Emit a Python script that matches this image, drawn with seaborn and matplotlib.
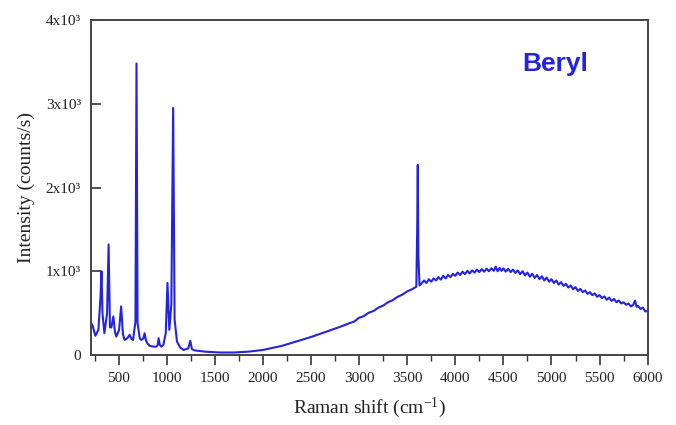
import matplotlib
matplotlib.use("Agg")
import matplotlib.pyplot as plt
import seaborn as sns
import pandas as pd
from matplotlib.ticker import MultipleLocator, FixedLocator, FixedFormatter

# Raman spectrum of beryl: shift (cm^-1) and intensity (counts/s)
shift_low = [210, 230, 258, 290, 312, 322, 332, 352, 380, 396, 410, 425, 445, 462,
             476, 505, 526, 545, 562, 590, 614, 635, 650, 675, 686, 697, 720, 736,
             758, 770, 785, 805, 822, 860, 892, 906, 916, 928, 945, 965, 990, 1008,
             1027, 1048, 1067, 1082, 1107, 1140, 1175, 1225, 1245, 1262, 1290]
counts_low = [390, 350, 230, 300, 700, 1000, 500, 260, 500, 1320, 330, 330, 460, 280,
              220, 300, 580, 250, 180, 200, 240, 190, 180, 400, 3480, 380, 200, 180,
              200, 260, 170, 130, 110, 100, 100, 120, 200, 120, 100, 120, 260, 860,
              300, 600, 2950, 420, 160, 90, 60, 80, 170, 70, 55]

shift_mid = [1400, 1550, 1700, 1850, 2000, 2100, 2200, 2300, 2400, 2500, 2600, 2700,
             2800, 2900, 2950, 3000, 3050, 3100, 3150, 3200, 3250, 3300, 3350, 3400,
             3450, 3500, 3550, 3595, 3604, 3610, 3616, 3628]
counts_mid = [40, 30, 30, 40, 60, 85, 110, 145, 180, 215, 255, 295, 335, 380, 400,
              445, 465, 505, 525, 565, 590, 630, 655, 695, 720, 760, 785, 816, 1500,
              2270, 1200, 830]

shift_high = [3650, 3675, 3700, 3725, 3750, 3775, 3800, 3825, 3850, 3875, 3900, 3925,
              3950, 3975, 4000, 4025, 4050, 4075, 4100, 4125, 4150, 4175, 4200, 4225,
              4250, 4275, 4300, 4325, 4350, 4375, 4400, 4420, 4440, 4460, 4480, 4500,
              4525, 4550, 4575, 4600, 4625, 4650, 4675, 4700, 4725, 4750, 4775, 4800,
              4825, 4850, 4875, 4900, 4925, 4950, 4975, 5000, 5025, 5050, 5075, 5100,
              5125, 5150, 5175, 5200, 5225, 5250, 5275, 5300, 5325, 5350, 5375, 5400,
              5425, 5450, 5475, 5500, 5525, 5550, 5575, 5600, 5625, 5650, 5675, 5700,
              5725, 5750, 5775, 5800, 5825, 5850, 5868, 5885, 5900, 5925, 5950, 5975,
              6000]
counts_high = [855, 890, 860, 905, 875, 915, 890, 930, 900, 945, 915, 955, 930, 970,
               945, 985, 955, 995, 965, 1005, 975, 1010, 985, 1020, 990, 1025, 995,
               1030, 1000, 1035, 1005, 1055, 1000, 1040, 1005, 1035, 995, 1030, 990,
               1020, 980, 1010, 965, 1000, 950, 985, 935, 970, 920, 955, 905, 940, 890,
               925, 875, 905, 860, 890, 840, 870, 825, 850, 805, 830, 785, 810, 765,
               790, 750, 770, 730, 750, 715, 735, 695, 715, 680, 700, 660, 685, 645,
               670, 630, 650, 615, 630, 600, 615, 580, 600, 650, 575, 585, 550, 565,
               520, 525]

x_ticks = [500, 1000, 1500, 2000, 2500, 3000, 3500, 4000, 4500, 5000, 5500, 6000]
y_ticks = [0, 1000, 2000, 3000, 4000]
y_tick_labels = ["0", "1x10³", "2x10³", "3x10³", "4x10³"]

spectrum = pd.DataFrame({
    "shift": shift_low + shift_mid + shift_high,
    "counts": counts_low + counts_mid + counts_high,
})

sns.set_style("ticks")
plt.rcParams["font.family"] = ["Liberation Serif", "DejaVu Serif"]
plt.rcParams["mathtext.fontset"] = "custom"
plt.rcParams["mathtext.rm"] = "Liberation Serif"
plt.rcParams["mathtext.it"] = "Liberation Serif:italic"

fig = plt.figure(figsize=(6.76, 4.25), dpi=100)
ax = fig.add_axes([0.1342, 0.1647, 0.8239, 0.7882])

line_color = "#2424dc"
sns.lineplot(data=spectrum, x="shift", y="counts", ax=ax, color=line_color,
             linewidth=1.5, estimator=None, sort=False)

ax.set_xlim(210, 6000)
ax.set_ylim(0, 4000)

ax.xaxis.set_major_locator(FixedLocator(x_ticks))
ax.xaxis.set_minor_locator(MultipleLocator(250))
ax.yaxis.set_major_locator(FixedLocator(y_ticks))
ax.yaxis.set_major_formatter(FixedFormatter(y_tick_labels))

ax.tick_params(axis="x", which="major", direction="out", length=7, width=1.2,
               labelsize=11, pad=5, colors="#333333", labelcolor="#222222")
ax.tick_params(axis="x", which="minor", direction="out", length=4, width=1.0,
               colors="#333333")
ax.tick_params(axis="y", which="major", direction="in", length=7, width=1.2,
               labelsize=11, pad=7, colors="#333333", labelcolor="#222222")

for side in ["left", "right", "top", "bottom"]:
    ax.spines[side].set_visible(True)
    ax.spines[side].set_linewidth(1.4)
    ax.spines[side].set_color("#444444")

ax.set_xlabel(r"Raman shift (cm$^{\mathrm{-1}}$)", fontsize=14, color="#222222",
              labelpad=8)
ax.set_ylabel("Intensity (counts/s)", fontsize=14, color="#222222", labelpad=8)

ax.text(0.834, 0.868, "Beryl", transform=ax.transAxes, ha="center", va="center",
        fontsize=19, fontweight="bold", color="#2323e0",
        family=["Liberation Sans", "DejaVu Sans"])

fig.savefig("out.png", dpi=100)
